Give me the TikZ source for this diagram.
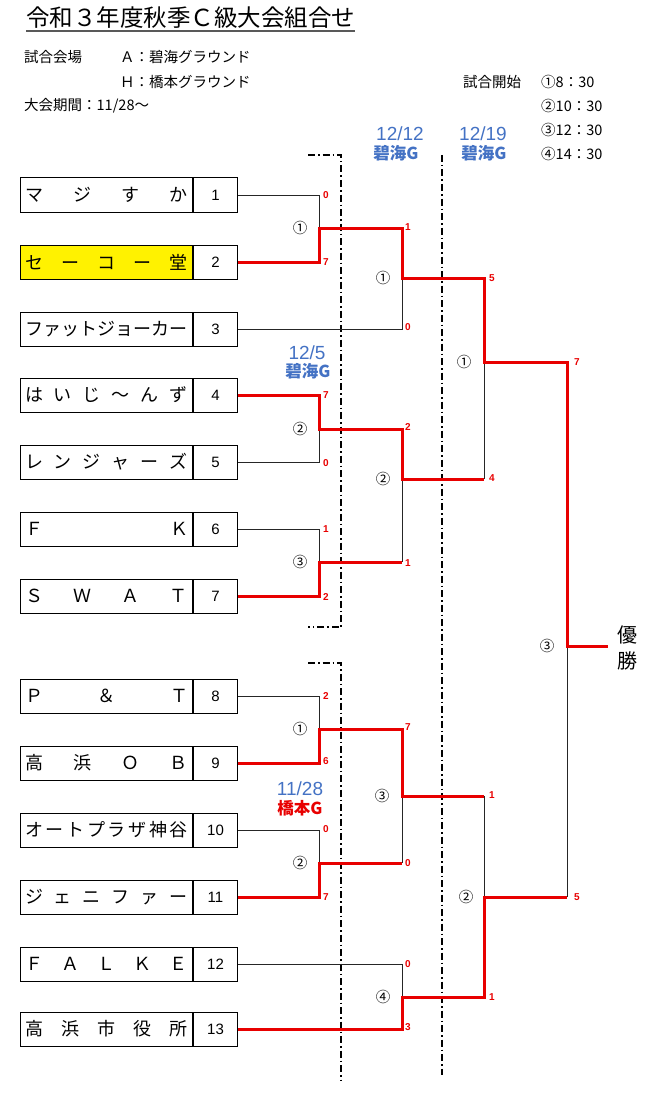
\documentclass[tikz,border=0pt]{standalone}
\usepackage{fontspec}
\setmainfont{Noto Sans CJK JP}
\newfontfamily\digitfont{Liberation Sans}
\usetikzlibrary{positioning}
\definecolor{winred}{RGB}{232,0,0}
\definecolor{dayblue}{RGB}{68,114,196}
\newcommand{\spreadname}[1]{\hbox to 163pt{#1}}

\begin{document}
\begin{tikzpicture}[x=1pt, y=-1pt,
  namebox/.style={draw, line width=1pt, minimum width=172pt, minimum height=34pt, inner xsep=0pt, anchor=west, font=\fontsize{18}{18}\selectfont},
  numbox/.style={draw, line width=1pt, minimum width=44pt, minimum height=34pt, inner sep=0pt, font=\digitfont\fontsize{15}{15}\selectfont},
  lose/.style={line width=1pt, black!85},
  win/.style={line width=3pt, winred},
  score/.style={anchor=west, inner sep=0pt, text=winred, font=\digitfont\bfseries\fontsize{10}{10}\selectfont},
  mno/.style={inner sep=0pt, font=\fontsize{14.5}{14.5}\selectfont},
  ddline/.style={line width=1.6pt, dash pattern=on 7pt off 3pt on 1.5pt off 3pt},
  daytext/.style={inner sep=0pt, text=dayblue, font=\digitfont\fontsize{19}{19}\selectfont},
  ground/.style={inner sep=0pt, text=dayblue, font=\bfseries\fontsize{16.5}{16.5}\selectfont},
  info/.style={anchor=west, inner sep=0pt, font=\fontsize{14.5}{14.5}\selectfont}]
\useasboundingbox (0,0) rectangle (650,1110);

% header
\node[anchor=west, inner sep=0pt, font=\fontsize{23.5}{23.5}\selectfont] (title) at (26,18) {令和３年度秋季Ｃ級大会組合せ};
\draw[line width=2pt, black!65] ([yshift=-2pt]title.south west) -- ([yshift=-2pt]title.south east);
\node[info] (venue) at (24,57) {試合会場};
\node[info] (venueA) at (120,57) {Ａ：碧海グラウンド};
\node[info] (venueH) at (120,82) {Ｈ：橋本グラウンド};
\node[info] (period) at (24,106) {大会期間：11/28～};
\node[info] (start) at (463,82) {試合開始};
\node[info] (time1) at (541,82) {①8：30};
\node[info] (time2) at (541,106) {②10：30};
\node[info] (time3) at (541,130) {③12：30};
\node[info] (time4) at (541,154) {④14：30};

% round dates
\node[daytext] (d3) at (400,134) {12/12};
\node[ground] (g3) at (396,153) {碧海G};
\node[daytext] (d4) at (483,134) {12/19};
\node[ground] (g4) at (484,153) {碧海G};
\node[daytext] (d2) at (307,353) {12/5};
\node[ground] (g2) at (308,371) {碧海G};
\node[daytext] (d1) at (300,789) {11/28};
\node[ground, text=winred] (g1) at (300,808) {橋本G};

% teams
\node[namebox] (t1) at (20,195) {\spreadname{マ\hfill ジ\hfill す\hfill か}};
\node[numbox, right=0pt of t1] (n1) {1};
\node[namebox, fill=yellow] (t2) at (20,262) {\spreadname{セ\hfill ー\hfill コ\hfill ー\hfill 堂}};
\node[numbox, right=0pt of t2] (n2) {2};
\node[namebox] (t3) at (20,329) {\spreadname{フ\hfill ァ\hfill ッ\hfill ト\hfill ジ\hfill ョ\hfill ー\hfill カ\hfill ー}};
\node[numbox, right=0pt of t3] (n3) {3};
\node[namebox] (t4) at (20,395) {\spreadname{は\hfill い\hfill じ\hfill ～\hfill ん\hfill ず}};
\node[numbox, right=0pt of t4] (n4) {4};
\node[namebox] (t5) at (20,462) {\spreadname{レ\hfill ン\hfill ジ\hfill ャ\hfill ー\hfill ズ}};
\node[numbox, right=0pt of t5] (n5) {5};
\node[namebox] (t6) at (20,529) {\spreadname{Ｆ\hfill Ｋ}};
\node[numbox, right=0pt of t6] (n6) {6};
\node[namebox] (t7) at (20,596) {\spreadname{Ｓ\hfill Ｗ\hfill Ａ\hfill Ｔ}};
\node[numbox, right=0pt of t7] (n7) {7};
\node[namebox] (t8) at (20,696) {\spreadname{Ｐ\hfill ＆\hfill Ｔ}};
\node[numbox, right=0pt of t8] (n8) {8};
\node[namebox] (t9) at (20,763) {\spreadname{高\hfill 浜\hfill Ｏ\hfill Ｂ}};
\node[numbox, right=0pt of t9] (n9) {9};
\node[namebox] (t10) at (20,830) {\spreadname{オ\hfill ー\hfill ト\hfill プ\hfill ラ\hfill ザ\hfill 神\hfill 谷}};
\node[numbox, right=0pt of t10] (n10) {10};
\node[namebox] (t11) at (20,897) {\spreadname{ジ\hfill ェ\hfill ニ\hfill フ\hfill ァ\hfill ー}};
\node[numbox, right=0pt of t11] (n11) {11};
\node[namebox] (t12) at (20,964) {\spreadname{Ｆ\hfill Ａ\hfill Ｌ\hfill Ｋ\hfill Ｅ}};
\node[numbox, right=0pt of t12] (n12) {12};
\node[namebox] (t13) at (20,1029) {\spreadname{高\hfill 浜\hfill 市\hfill 役\hfill 所}};
\node[numbox, right=0pt of t13] (n13) {13};
\node[anchor=west, inner xsep=9pt, align=center, font=\fontsize{20}{26}\selectfont] (yusho) at (608,648) {優\\勝};

% bracket joints
\coordinate (m1) at (319,228);
\coordinate (m2) at (319,429);
\coordinate (m3) at (319,562);
\coordinate (m4) at (319,729);
\coordinate (m5) at (319,863);
\coordinate (r2a) at (402,278);
\coordinate (r2b) at (402,479);
\coordinate (r2c) at (402,796);
\coordinate (r2d) at (402,997);
\coordinate (r3a) at (484,362);
\coordinate (r3b) at (484,897);
\coordinate (fin) at (567,646);

% date separators
\draw[ddline] (308,155) -- (341,155) -- (341,627) -- (308,627);
\draw[ddline] (308,663) -- (341,663) -- (341,1080);
\draw[ddline] (442,155) -- (442,1075);

% losing lines
\draw[lose] (n1.east) -| (m1);
\draw[lose] (n3.east) -| (r2a);
\draw[lose] (n5.east) -| (m2);
\draw[lose] (n6.east) -| (m3);
\draw[lose] (m3 -| r2b) -- (r2b);
\draw[lose] (r2b -| r3a) -- (r3a);
\draw[lose] (n8.east) -| (m4);
\draw[lose] (n10.east) -| (m5);
\draw[lose] (m5 -| r2c) -- (r2c);
\draw[lose] (n12.east) -| (r2d);
\draw[lose] (r2c -| r3b) -- (r3b);
\draw[lose] (r3b -| fin) -- (fin);

% winning lines
\draw[win] (n2.east) -| (m1) -| (r2a) -| (r3a) -| (fin) -- (fin -| yusho.west);
\draw[win] (n4.east) -| (m2) -| (r2b) -- (r2b -| r3a);
\draw[win] (n7.east) -| (m3) -- (m3 -| r2b);
\draw[win] (n9.east) -| (m4) -| (r2c) -- (r2c -| r3b);
\draw[win] (n11.east) -| (m5) -- (m5 -| r2c);
\draw[win] (n13.east) -| (r2d) -| (r3b) -- (r3b -| fin);

% match numbers
\node[mno] (k1) at (300,228) {①};
\node[mno] (k2) at (300,429) {②};
\node[mno] (k3) at (300,562) {③};
\node[mno] (k4) at (300,729) {①};
\node[mno] (k5) at (300,863) {②};
\node[mno] (k6) at (383,278) {①};
\node[mno] (k7) at (383,479) {②};
\node[mno] (k8) at (382,796) {③};
\node[mno] (k9) at (383,997) {④};
\node[mno] (k10) at (464,362) {①};
\node[mno] (k11) at (466,897) {②};
\node[mno] (k12) at (547,646) {③};

% scores
\node[score] (s1) at (323,195) {0};
\node[score] (s2) at (323,262) {7};
\node[score] (s3) at (323,395) {7};
\node[score] (s4) at (323,463) {0};
\node[score] (s5) at (323,529) {1};
\node[score] (s6) at (323,597) {2};
\node[score] (s7) at (323,696) {2};
\node[score] (s8) at (323,761) {6};
\node[score] (s9) at (323,829) {0};
\node[score] (s10) at (323,897) {7};
\node[score] (s11) at (405,227) {1};
\node[score] (s12) at (405,327) {0};
\node[score] (s13) at (405,427) {2};
\node[score] (s14) at (405,563) {1};
\node[score] (s15) at (405,727) {7};
\node[score] (s16) at (405,863) {0};
\node[score] (s17) at (405,964) {0};
\node[score] (s18) at (405,1027) {3};
\node[score] (s19) at (489,278) {5};
\node[score] (s20) at (489,478) {4};
\node[score] (s21) at (489,795) {1};
\node[score] (s22) at (489,997) {1};
\node[score] (s23) at (574,362) {7};
\node[score] (s24) at (574,897) {5};
\end{tikzpicture}
\end{document}
